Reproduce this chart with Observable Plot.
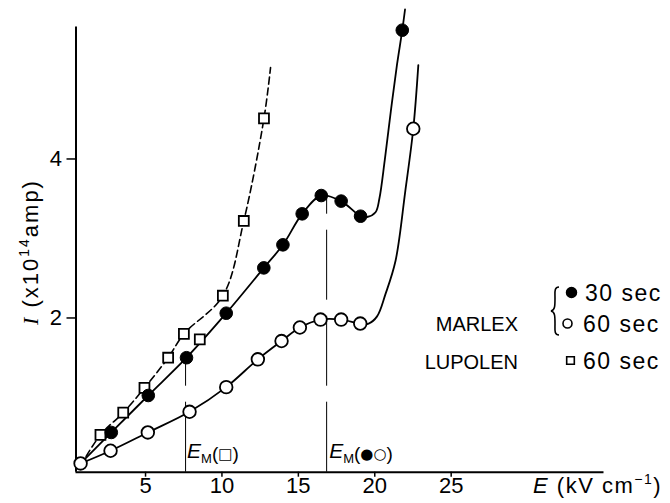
<!DOCTYPE html>
<html><head><meta charset="utf-8">
<script src="https://cdn.jsdelivr.net/npm/d3@7"></script>
<script src="https://cdn.jsdelivr.net/npm/@observablehq/plot@0.6"></script>
<style>body{margin:0;background:#fff}</style>
</head><body><div id="chart"></div>
<script>
// ---- data ----
const xTicks = [5, 10, 15, 20, 25];
const yTicks = [2, 4];

// MARLEX 30 sec (filled circles)
const m30E = [2.76, 5.18, 7.68, 10.28, 12.74, 13.99, 15.25, 16.5, 17.8, 19.07, 21.8];
const m30I = [0.56, 1.025, 1.50, 2.06, 2.63, 2.92, 3.31, 3.54, 3.47, 3.28, 5.62];
const m30CurveE = [0.75, 2.76, 5.18, 7.68, 10.28, 12.74, 13.99, 15.25, 16.5, 17.8, 19.07, 19.5, 20.05, 20.3, 20.65, 21.05, 21.45, 21.8, 21.98];
const m30CurveI = [0.17, 0.56, 1.025, 1.50, 2.06, 2.63, 2.92, 3.31, 3.54, 3.47, 3.28, 3.27, 3.33, 3.5, 3.98, 4.6, 5.18, 5.62, 5.88];

// MARLEX 60 sec (open circles)
const m60E = [0.75, 2.71, 5.15, 7.88, 10.28, 12.35, 13.9, 15.1, 16.45, 17.8, 19.05, 22.52];
const m60I = [0.17, 0.33, 0.56, 0.82, 1.13, 1.48, 1.71, 1.88, 1.98, 1.98, 1.93, 4.38];
const m60CurveE = [0.75, 2.71, 5.15, 7.88, 10.28, 12.35, 13.9, 15.1, 16.45, 17.8, 19.05, 19.6, 20.15, 20.7, 21.36, 22.0, 22.52, 22.85];
const m60CurveI = [0.17, 0.33, 0.56, 0.82, 1.13, 1.48, 1.71, 1.88, 1.98, 1.98, 1.93, 1.93, 2.02, 2.3, 2.72, 3.6, 4.38, 5.18];

// LUPOLEN 60 sec (open squares, dashed)
const lupE = [2.05, 3.54, 4.93, 6.48, 7.51, 8.55, 10.06, 11.43, 12.75];
const lupI = [0.53, 0.81, 1.12, 1.50, 1.80, 1.73, 2.28, 3.22, 4.51];
const lupCurveE = [0.75, 2.05, 3.54, 4.93, 6.48, 7.51, 10.06, 11.43, 12.75, 13.18];
const lupCurveI = [0.14, 0.53, 0.81, 1.12, 1.50, 1.80, 2.28, 3.22, 4.51, 5.15];

// E_M markers
const emE = [7.62, 16.85];
const emTop = [1.5, 3.52];

const rows = (E, I) => E.map((e, i) => ({E: e, I: I[i]}));
const xDomain = [0.45, 35];
const yDomain = [0.06, 5.66];
const FONT = "'Liberation Sans', Arial, sans-serif";

const plot = Plot.plot({
  width: 670, height: 503,
  marginLeft: 75.5, marginRight: 66.5, marginTop: 26.5, marginBottom: 31.3,
  x: {domain: xDomain},
  y: {domain: yDomain},
  style: {fontFamily: FONT, background: "#fff", color: "#000", overflow: "visible"},
  marks: [
    Plot.axisX(xTicks, {tickSize: 5, tickPadding: 0, fontSize: 22, label: null, strokeWidth: 1.5, tickFormat: d3.format("d")}),
    Plot.axisY(yTicks, {tickSize: 9, tickPadding: 5, fontSize: 22, label: null, strokeWidth: 1.5, tickFormat: d3.format("d")}),
    Plot.ruleY([yDomain[0]], {x1: xDomain[0], x2: xDomain[1], strokeWidth: 2}),
    Plot.ruleX([xDomain[0]], {y1: yDomain[0], y2: yDomain[1], strokeWidth: 2}),
    Plot.ruleX(rows(emE, emTop), {x: "E", y1: yDomain[0], y2: "I", strokeWidth: 1, strokeDasharray: "70,16"}),
    Plot.line(rows(lupCurveE, lupCurveI), {x: "E", y: "I", curve: "catmull-rom", strokeWidth: 1.6, strokeDasharray: "7,4"}),
    Plot.line(rows(m30CurveE, m30CurveI), {x: "E", y: "I", curve: "catmull-rom", strokeWidth: 1.8}),
    Plot.line(rows(m60CurveE, m60CurveI), {x: "E", y: "I", curve: "catmull-rom", strokeWidth: 1.8}),
    Plot.dot(rows(lupE, lupI), {x: "E", y: "I", symbol: "square", r: 5.6, fill: "white", stroke: "black", strokeWidth: 1.8}),
    Plot.dot(rows(m30E, m30I), {x: "E", y: "I", r: 6.3, fill: "black", stroke: "black", strokeWidth: 1}),
    Plot.dot(rows(m60E, m60I), {x: "E", y: "I", r: 6.3, fill: "white", stroke: "black", strokeWidth: 1.8}),
    // legend symbols
    Plot.dot([0], {frameAnchor: "top-left", dx: 495.5, dy: 265.5, r: 5, fill: "black", stroke: "black"}),
    Plot.dot([0], {frameAnchor: "top-left", dx: 491.5, dy: 296.5, r: 4.5, fill: "white", stroke: "black", strokeWidth: 1.6}),
    Plot.dot([0], {frameAnchor: "top-left", dx: 494.5, dy: 333.5, symbol: "square", r: 4.3, fill: "white", stroke: "black", strokeWidth: 1.6})
  ]
});
document.getElementById("chart").appendChild(plot);

const svg = d3.select(plot);
const g = svg.append("g").attr("font-family", FONT).attr("fill", "black").attr("text-anchor", "start");

// legend texts
[["30 sec", 585, 301], ["60 sec", 583, 332], ["60 sec", 583, 369]].forEach(([t, x, y]) =>
  g.append("text").attr("x", x).attr("y", y).attr("text-anchor", "start").attr("font-size", 23).attr("letter-spacing", 1.5).text(t));
[["MARLEX", 518, 331], ["LUPOLEN", 518, 369]].forEach(([t, x, y]) =>
  g.append("text").attr("x", x).attr("y", y).attr("text-anchor", "end").attr("font-size", 20).text(t));
// brace
g.append("path")
  .attr("d", "M559,287 C554,287 555,292 555,298 C555,306 555,310 551,311 C555,312 555,316 555,324 C555,330 554,335 559,335")
  .attr("fill", "none").attr("stroke", "black").attr("stroke-width", 1.6);

// E_M labels
const sx = v => plot.scale("x").apply(v);
function emLabel(x, sym) {
  const t = g.append("text").attr("x", x).attr("y", 458).attr("font-size", 21).attr("text-anchor", "start");
  t.append("tspan").attr("font-style", "italic").text("E");
  t.append("tspan").attr("font-size", 13).attr("dy", 5).text("M");
  t.append("tspan").attr("font-size", 19).attr("dy", -3).text("(");
  t.append("tspan").attr("font-size", 15).attr("dy", -1).attr("font-family", "'DejaVu Sans'").text(sym);
  t.append("tspan").attr("font-size", 19).attr("dy", 1).text(")");
}
emLabel(sx(emE[0]) + 2, "□");
emLabel(sx(emE[1]) + 3, "●○");

// x axis label
{
  const t = g.append("text").attr("x", 533).attr("y", 493).attr("font-size", 22).attr("letter-spacing", 1.5).attr("text-anchor", "start");
  t.append("tspan").attr("font-style", "italic").text("E");
  t.append("tspan").text(" (kV cm");
  t.append("tspan").attr("font-size", 14).attr("dy", -9).text("−1");
  t.append("tspan").attr("dy", 9).text(")");
}
// y axis label
{
  const t = g.append("text").attr("transform", "translate(38,325) rotate(-90)").attr("font-size", 22).attr("letter-spacing", 2).attr("text-anchor", "start");
  t.append("tspan").attr("font-style", "italic").attr("font-family", "'Liberation Serif', serif").text("I");
  t.append("tspan").text(" (x10");
  t.append("tspan").attr("font-size", 14).attr("dy", -9).text("14");
  t.append("tspan").attr("dy", 9).text("amp)");
}
</script>
</body></html>
